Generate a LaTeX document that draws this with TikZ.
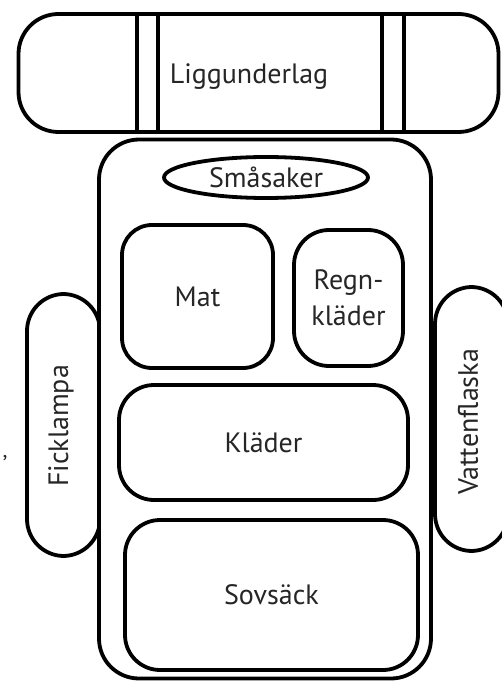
\documentclass[tikz,border=0pt]{standalone}
\usepackage{fontspec}
\setmainfont{PT Sans}
\usetikzlibrary{shapes.geometric}
\begin{document}
\begin{tikzpicture}[x=1pt,y=-1pt,
  lw/.style={line width=3.8pt},
  part/.style={lw, draw=black, fill=white, rectangle, inner sep=0pt, text=black!85, font=\fontsize{28}{36}\selectfont, align=center},
  lbl/.style={inner sep=0pt, text=black!85, font=\fontsize{28}{36}\selectfont, align=center}]
\useasboundingbox (0,0) rectangle (501,684);
% side items (drawn first, partly hidden by the pack)
\node[part, rounded corners=37pt, rotate=90, minimum width=262pt, minimum height=73pt] (lampshape) at (63.5,425) {};
\node[lbl, rotate=90] (lamp) at (61,426) {Ficklampa};
\node[part, rounded corners=37pt, rotate=90, minimum width=264pt, minimum height=73pt] (flaskshape) at (471.5,419) {};
\node[lbl, rotate=90] (flask) at (468,422) {Vattenflaska};
% sleeping pad
\node[part, rounded corners=40pt, minimum width=480pt, minimum height=118pt] (pad) at (258.5,73) {};
\draw[lw] (137,12) -- (137,134);
\draw[lw] (158,12) -- (158,134);
\draw[lw] (382,12) -- (382,134);
\draw[lw] (404,12) -- (404,134);
\node[lbl] (padtext) at (249,77) {Liggunderlag};
% backpack
\node[part, rounded corners=40pt, minimum width=332pt, minimum height=539pt] (pack) at (265,409) {};
\node[part, ellipse, minimum width=204pt, minimum height=41pt] (small) at (266,177.5) {Småsaker};
\node[part, rounded corners=30pt, minimum width=151pt, minimum height=143pt] (mat) at (197.5,296.5) {Mat};
\node[part, rounded corners=35pt, minimum width=109pt, minimum height=136pt] (regn) at (348.5,298) {Regn-\\kläder};
\node[part, rounded corners=35pt, minimum width=289pt, minimum height=115pt] (klader) at (263.5,442.5) {Kläder};
\node[part, rounded corners=35pt, minimum width=293pt, minimum height=150pt] (sovsack) at (271.5,595) {Sovsäck};
\node[lbl, font=\fontsize{22}{24}\selectfont] (comma) at (5,458) {,};
\end{tikzpicture}
\end{document}
